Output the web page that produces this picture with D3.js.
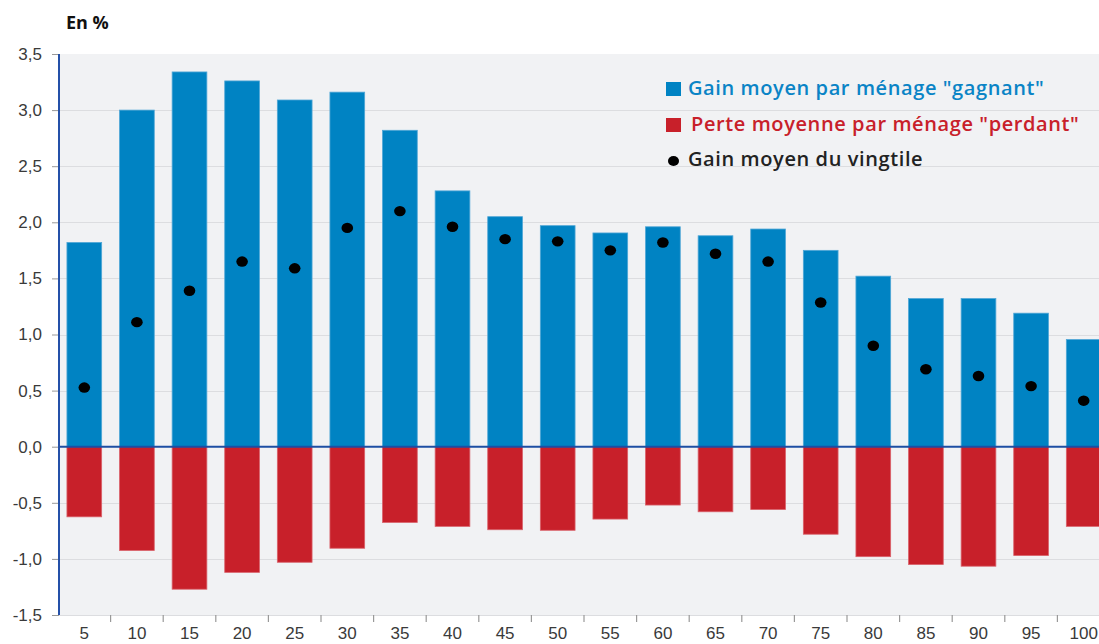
<!DOCTYPE html>
<html>
<head>
<meta charset="utf-8">
<script src="https://cdn.jsdelivr.net/npm/d3@7"></script>
<style>
  body { margin: 0; background: #fff; }
  svg { display: block; font-family: "Open Sans", "Noto Sans", sans-serif; }
</style>
</head>
<body>
<div id="chart"></div>
<script>
// ***************数据*******************
const vingtiles = [5, 10, 15, 20, 25, 30, 35, 40, 45, 50, 55, 60, 65, 70, 75, 80, 85, 90, 95, 100];
const gainGagnant = [1.82, 3.00, 3.34, 3.26, 3.09, 3.16, 2.82, 2.28, 2.05, 1.97, 1.905, 1.96, 1.88, 1.94, 1.75, 1.52, 1.32, 1.32, 1.19, 0.955];
const pertePerdant = [-0.625, -0.925, -1.27, -1.12, -1.03, -0.905, -0.675, -0.71, -0.74, -0.745, -0.645, -0.52, -0.58, -0.56, -0.78, -0.98, -1.05, -1.065, -0.97, -0.71];
const gainVingtile = [0.527, 1.11, 1.39, 1.65, 1.59, 1.95, 2.10, 1.96, 1.85, 1.83, 1.75, 1.82, 1.72, 1.65, 1.285, 0.90, 0.69, 0.63, 0.54, 0.41];
const yTicks = [-1.5, -1.0, -0.5, 0, 0.5, 1.0, 1.5, 2.0, 2.5, 3.0, 3.5];
const legendItems = [
  { label: 'Gain moyen par ménage "gagnant"', color: '#0a84c6', shape: 'rect' },
  { label: 'Perte moyenne par ménage "perdant"', color: '#c8202a', shape: 'rect' },
  { label: 'Gain moyen du vingtile', color: '#222', shape: 'dot' }
];

const width = 1099;
const height = 644;
const plotLeft = 59, plotRight = 1099, plotTop = 54, plotBottom = 615;
const blue = '#0083c3';
const red = '#c8202a';

const svg = d3.select('#chart').append('svg')
  .attr('width', width)
  .attr('height', height);

const x = d3.scaleBand()
  .domain(vingtiles)
  .range([58, 1110])
  .paddingInner(0.34)
  .paddingOuter(0.17);

const y = d3.scaleLinear()
  .domain([-1.5, 3.5])
  .range([plotBottom, plotTop]);

const fmt = (d) => d3.format('.1f')(d).replace('.', ',').replace('−', '-');

// 背景
svg.append('rect')
  .attr('x', plotLeft)
  .attr('y', plotTop)
  .attr('width', plotRight - plotLeft)
  .attr('height', plotBottom - plotTop)
  .attr('fill', '#f1f2f4');

// 网格线
svg.append('g').selectAll('line')
  .data(yTicks.filter((d) => d !== 0 && d !== 3.5))
  .enter()
  .append('line')
  .attr('x1', plotLeft)
  .attr('x2', plotRight)
  .attr('y1', (d) => Math.round(y(d)) + 0.5)
  .attr('y2', (d) => Math.round(y(d)) + 0.5)
  .attr('stroke', '#dcdde0')
  .attr('stroke-width', 1.2);

// y 轴
const yAxis = svg.append('g')
  .attr('transform', `translate(${plotLeft},0)`)
  .call(d3.axisLeft(y).tickValues(yTicks).tickFormat(fmt).tickSize(7).tickPadding(10));
yAxis.select('.domain').remove();
yAxis.selectAll('.tick line').attr('stroke', '#999');
yAxis.selectAll('.tick text')
  .attr('fill', '#3a3a3a')
  .style('font-size', '17px');

// x 轴
const xAxis = svg.append('g')
  .attr('transform', `translate(0,${plotBottom})`)
  .call(d3.axisBottom(x).tickSize(0).tickPadding(12));
xAxis.select('.domain').remove();
xAxis.selectAll('.tick text')
  .attr('fill', '#3a3a3a')
  .style('font-size', '17px');

// x 轴刻度（在类目之间）
svg.append('g').selectAll('line')
  .data(vingtiles.slice(1))
  .enter()
  .append('line')
  .attr('x1', (d) => x(d) - (x.step() * x.paddingInner()) / 2)
  .attr('x2', (d) => x(d) - (x.step() * x.paddingInner()) / 2)
  .attr('y1', plotBottom)
  .attr('y2', plotBottom + 7)
  .attr('stroke', '#999')
  .attr('stroke-width', 1.2);

// 柱子 - 正
svg.append('g').selectAll('rect')
  .data(gainGagnant)
  .enter()
  .append('rect')
  .attr('x', (d, i) => x(vingtiles[i]))
  .attr('y', (d) => y(d))
  .attr('width', x.bandwidth())
  .attr('height', (d) => y(0) - y(d))
  .attr('fill', blue)
  .attr('stroke', '#4fa6d6')
  .attr('stroke-width', 0.8);

// 柱子 - 负
svg.append('g').selectAll('rect')
  .data(pertePerdant)
  .enter()
  .append('rect')
  .attr('x', (d, i) => x(vingtiles[i]))
  .attr('y', y(0))
  .attr('width', x.bandwidth())
  .attr('height', (d) => y(d) - y(0))
  .attr('fill', red)
  .attr('stroke', '#d9616a')
  .attr('stroke-width', 0.8);

// 零线
svg.append('line')
  .attr('x1', plotLeft)
  .attr('x2', plotRight)
  .attr('y1', y(0))
  .attr('y2', y(0))
  .attr('stroke', '#1d4ea3')
  .attr('stroke-width', 2);

// y 轴线
svg.append('line')
  .attr('x1', plotLeft)
  .attr('x2', plotLeft)
  .attr('y1', plotTop)
  .attr('y2', plotBottom)
  .attr('stroke', '#2450a8')
  .attr('stroke-width', 2);

// 点
svg.append('g').selectAll('ellipse')
  .data(gainVingtile)
  .enter()
  .append('ellipse')
  .attr('cx', (d, i) => x(vingtiles[i]) + x.bandwidth() / 2)
  .attr('cy', (d) => y(d))
  .attr('rx', 5.8)
  .attr('ry', 5.2)
  .attr('fill', '#000');

// 单位
svg.append('text')
  .attr('x', 66)
  .attr('y', 29)
  .attr('font-size', '18px')
  .attr('font-weight', 'bold')
  .attr('fill', '#111')
  .text('En %');

// 图例
const legend = svg.append('g').attr('class', 'legend');
const legendY = [89, 125, 160];
legendItems.forEach((item, i) => {
  const g = legend.append('g').attr('transform', `translate(0,${legendY[i]})`);
  if (item.shape === 'rect') {
    g.append('rect')
      .attr('x', 666)
      .attr('y', -7)
      .attr('width', 15)
      .attr('height', 14)
      .attr('fill', i === 0 ? blue : red);
  } else {
    g.append('ellipse')
      .attr('cx', 673.5)
      .attr('cy', 1)
      .attr('rx', 5.5)
      .attr('ry', 5)
      .attr('fill', '#000');
  }
  g.append('text')
    .attr('x', i === 1 ? 691 : 688)
    .attr('y', 6)
    .attr('font-size', '20px')
    .attr('font-weight', 600)
    .attr('letter-spacing', '0.6px')
    .attr('fill', item.color)
    .text(item.label);
});
</script>
</body>
</html>
